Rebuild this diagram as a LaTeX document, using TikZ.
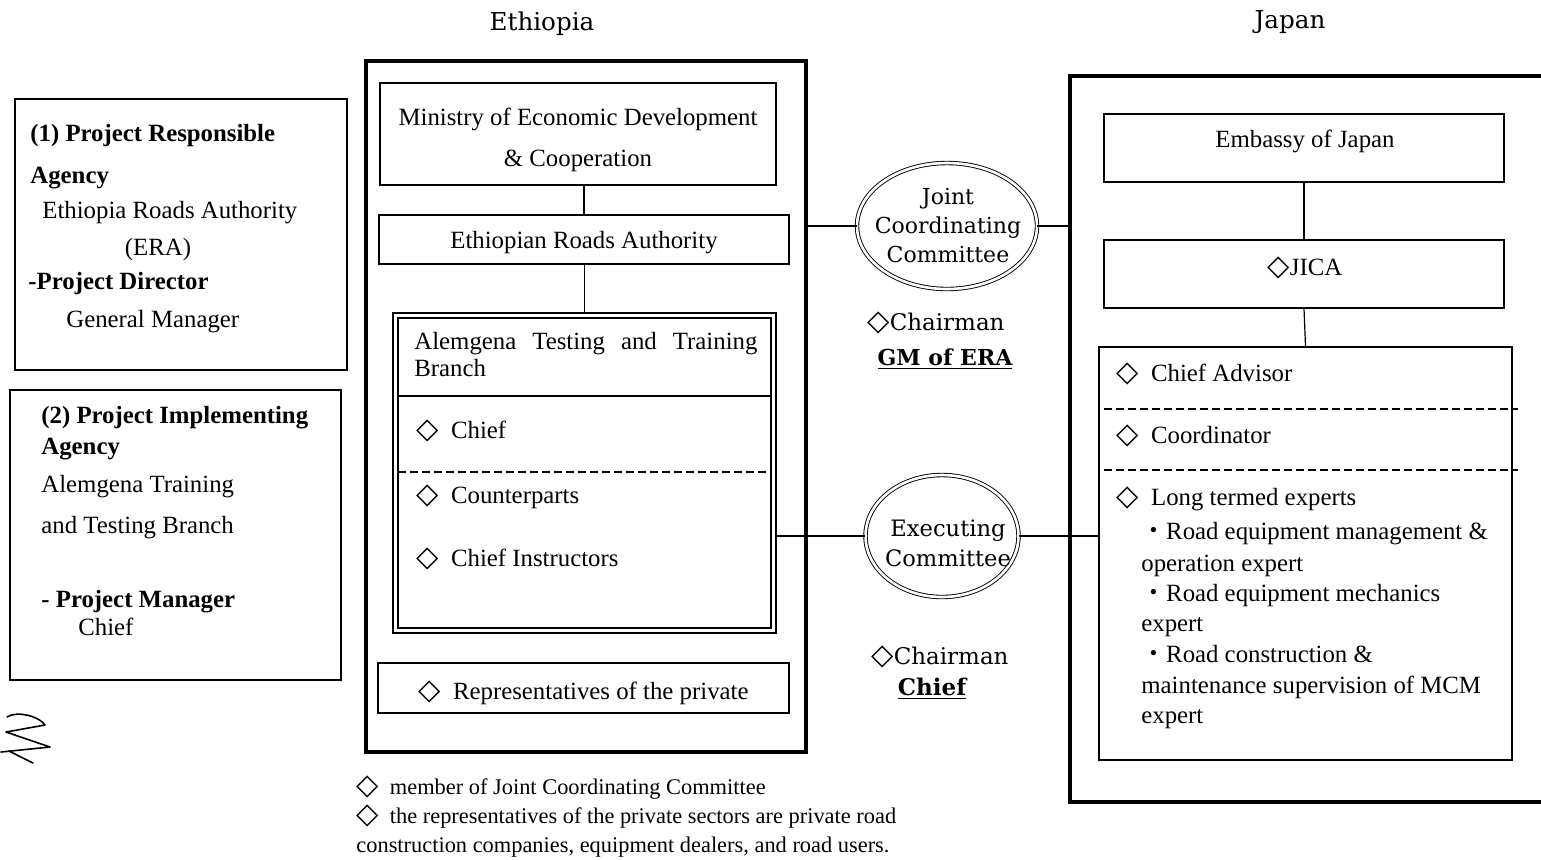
\documentclass[tikz,border=0pt]{standalone}
\usepackage{fontspec}
\setmainfont{Liberation Serif}
\newfontfamily\djv{DejaVu Sans}
\newfontfamily\djs{DejaVu Serif}
\newfontfamily\cjk{Noto Sans CJK JP}
\usetikzlibrary{shapes.geometric,fit}
\newcommand\dia{{\djv\fontsize{14.5}{14}\selectfont ◇}}
\newcommand\kdot{{\cjk ・}}
\begin{document}
\begin{tikzpicture}[x=0.5pt,y=-0.5pt,
  box/.style={draw, line width=0.6pt, inner sep=0pt},
  heavybox/.style={draw, line width=2.4pt, inner sep=0pt},
  txt/.style={anchor=mid west, inner sep=0pt, yshift=-2pt, font=\fontsize{12.4}{15}\selectfont},
  btxt/.style={txt, font=\fontsize{12.4}{15}\selectfont\bfseries},
  ctxt/.style={anchor=mid, inner sep=0pt, yshift=-2pt, font=\fontsize{12.4}{15}\selectfont},
  ntxt/.style={anchor=mid west, inner sep=0pt, yshift=-1.5pt, font=\fontsize{11.2}{14}\selectfont},
  stxt/.style={anchor=mid, inner sep=0pt, yshift=-2pt, align=center, font=\djs\fontsize{11}{14.5}\selectfont},
  mtxt/.style={anchor=center, inner sep=0pt, align=center, font=\djs\fontsize{11}{14.5}\selectfont},
  comm/.style={ellipse, draw, double, double distance=1.3pt, line width=0.45pt, inner sep=0pt},
  link/.style={line width=0.6pt},
  sep/.style={line width=0.6pt, dash pattern=on 4pt off 2pt},
  pen/.style={line width=0.8pt, line cap=round, line join=round}
]
\useasboundingbox (0,0) rectangle (1541,859);

% titles
\node[stxt, font=\djs\fontsize{12.3}{15}\selectfont] (teth) at (542,22) {Ethiopia};
\node[stxt, font=\djs\fontsize{12.3}{15}\selectfont] (tjap) at (1290,20) {Japan};

% left box 1
\node[box, fit={(15,99) (347,370)}] (resp) {};
\node[btxt] (r1) at (30,133) {(1) Project Responsible};
\node[btxt] (r2) at (30,175) {Agency};
\node[txt]  (r3) at (42,210) {Ethiopia Roads Authority};
\node[ctxt] (r4) at (158,247) {(ERA)};
\node[btxt] (r5) at (28,281) {-Project Director};
\node[txt]  (r6) at (66,319) {General Manager};

% left box 2
\node[box, fit={(10,390) (341,680)}] (impl) {};
\node[btxt] (i1) at (41,415) {(2) Project Implementing};
\node[btxt] (i2) at (41,446) {Agency};
\node[txt]  (i3) at (41,484) {Alemgena Training};
\node[txt]  (i4) at (41,525) {and Testing Branch};
\node[btxt] (i5) at (41,599) {- Project Manager};
\node[txt]  (i6) at (78,627) {Chief};

% squiggle mark
\draw[pen] (7,717) .. controls (18,710) and (40,717) .. (45,725)
  -- (6,732) -- (50,747) -- (1,752);
\draw[pen] (9,751) -- (33,763);

% Ethiopia side
\node[heavybox, fit={(366,61) (806,752)}] (eth) {};
\node[box, fit={(380,83) (776,185)}] (med) {};
\node[ctxt] (med1) at (578,117) {Ministry of Economic Development};
\node[ctxt] (med2) at (578,158) {\& Cooperation};
\node[box, fit={(379,215) (789,264)}] (era) {};
\node[ctxt] (eratxt) at (584,240) {Ethiopian Roads Authority};
\node[box, fit={(393,313) (776,633)}] (alem) {};
\node[box, fit={(398,318) (771,628)}] (aleminner) {};
\node[anchor=north west, inner sep=0pt, text width=172pt, align=left, font=\fontsize{12.4}{13.4}\selectfont] (alemhead) at (414,332)
  {\hbox to 171.5pt{Alemgena\hfill Testing\hfill and\hfill Training}\\Branch};
\coordinate (h1) at (398,396);
\coordinate (h2) at (771,396);
\draw[link] (h1) -- (h2);
\node[txt] (a1) at (416,430) {\dia\ \ Chief};
\coordinate (d1) at (398,472);
\coordinate (d2) at (771,472);
\draw[sep] (d1) -- (d2);
\node[txt] (a2) at (416,495) {\dia\ \ Counterparts};
\node[txt] (a3) at (416,558) {\dia\ \ Chief Instructors};
\node[box, fit={(378,663) (789,713)}] (rep) {};
\node[txt] (reptxt) at (418,691) {\dia\ \ Representatives of the private};

\draw[link] (era.north) -- (era.north |- med.south);
\draw[link] (alem.north) -- (alem.north |- era.south);

% notes
\node[ntxt] (n1) at (356,787) {\dia\ \ member of Joint Coordinating Committee};
\node[ntxt] (n2) at (356,816) {\dia\ \ the representatives of the private sectors are private road};
\node[ntxt] (n3) at (356,845) {construction companies, equipment dealers, and road users.};

% committees
\node[comm, minimum width=90pt, minimum height=63pt] (jcc) at (947,226) {};
\node[mtxt] (jcctxt) at (948,226) {Joint\\Coordinating\\Committee};
\node[stxt, font=\djs\fontsize{11.5}{14}\selectfont] (ch1) at (936,322) {\dia Chairman};
\node[stxt, font=\djs\fontsize{11}{14}\selectfont\bfseries] (ch1b) at (945,357) {\underline{GM of ERA}};

\node[comm, minimum width=76.5pt, minimum height=61pt] (exec) at (942,536) {};
\node[mtxt, font=\djs\fontsize{11.3}{15}\selectfont] (exectxt) at (948,543) {Executing\\Committee};
\node[stxt, font=\djs\fontsize{11.5}{14}\selectfont] (ch2) at (940,656) {\dia Chairman};
\node[stxt, font=\djs\fontsize{11.5}{14}\selectfont\bfseries] (ch2b) at (932,687) {\underline{Chief}};

% Japan side
\node[heavybox, fit={(1070,76) (1640,802)}] (jp) {};
\node[box, fit={(1104,114) (1504,182)}] (emb) {};
\node[ctxt] (embtxt) at (1305,139) {Embassy of Japan};
\node[box, fit={(1104,240) (1504,308)}] (jica) {};
\node[ctxt] (jicatxt) at (1305,267) {\dia JICA};
\node[box, fit={(1099,347) (1512,760)}] (exp) {};
\coordinate (e1) at (1104,409);
\coordinate (e2) at (1518,409);
\coordinate (e3) at (1104,470);
\coordinate (e4) at (1518,470);
\draw[sep] (e1) -- (e2);
\draw[sep] (e3) -- (e4);
\node[txt] (x1) at (1116,373) {\dia\ \ Chief Advisor};
\node[txt] (x2) at (1116,435) {\dia\ \ Coordinator};
\node[txt] (x3) at (1116,497) {\dia\ \ Long termed experts};
\node[txt] (x4) at (1141,531) {\kdot Road equipment management \&};
\node[txt] (x5) at (1141,563) {operation expert};
\node[txt] (x6) at (1141,593) {\kdot Road equipment mechanics};
\node[txt] (x7) at (1141,623) {expert};
\node[txt] (x8) at (1141,654) {\kdot Road construction \&};
\node[txt] (x9) at (1141,685) {maintenance supervision of MCM};
\node[txt] (x10) at (1141,715) {expert};

\draw[link] (emb.south) -- (jica.north);
\draw[link] (jica.south) -- (exp.north);

% connectors to committees
\draw[link] (jcc.west) -- (jcc.west -| eth.east);
\draw[link] (jcc.east) -- (jcc.east -| jp.west);
\draw[link] (exec.west) -- (exec.west -| alem.east);
\draw[link] (exec.east) -- (exec.east -| exp.west);
\end{tikzpicture}
\end{document}
